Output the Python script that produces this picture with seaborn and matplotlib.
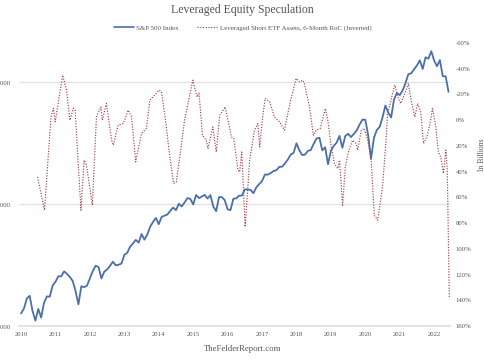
import matplotlib
matplotlib.use("Agg")
import matplotlib.pyplot as plt
import matplotlib.ticker as mticker
from matplotlib.lines import Line2D
import numpy as np
import pandas as pd
import seaborn as sns

# S&P 500 monthly closes, Jan 2010 - Jun 2022
sp500 = [
    1074, 1104, 1169, 1187, 1089, 1031, 1102, 1049, 1141, 1183, 1181, 1258,
    1286, 1327, 1326, 1364, 1345, 1321, 1292, 1219, 1131, 1253, 1247, 1258,
    1312, 1366, 1408, 1398, 1310, 1362, 1379, 1407, 1441, 1412, 1416, 1426,
    1498, 1515, 1569, 1598, 1631, 1606, 1686, 1633, 1682, 1757, 1806, 1848,
    1783, 1859, 1872, 1884, 1924, 1960, 1931, 2003, 1972, 2018, 2068, 2059,
    1995, 2105, 2068, 2086, 2107, 2063, 2104, 1972, 1920, 2079, 2080, 2044,
    1940, 1932, 2060, 2065, 2097, 2099, 2174, 2171, 2168, 2126, 2199, 2239,
    2279, 2364, 2363, 2384, 2412, 2423, 2470, 2472, 2519, 2575, 2648, 2674,
    2824, 2714, 2641, 2648, 2705, 2718, 2816, 2902, 2914, 2712, 2760, 2507,
    2704, 2784, 2834, 2946, 2752, 2942, 2980, 2926, 2977, 3038, 3141, 3231,
    3226, 2954, 2585, 2912, 3044, 3100, 3271, 3500, 3363, 3270, 3622, 3756,
    3714, 3811, 3973, 4181, 4204, 4298, 4395, 4523, 4308, 4605, 4567, 4766,
    4516, 4374, 4530, 4132, 4132, 3785,
]
sp_years = 2010 + np.arange(len(sp500)) / 12

# Leveraged short ETF assets, 6-month rate of change (%)
roc_years = [
    2010.48, 2010.68, 2010.87, 2010.94, 2010.99, 2011.06, 2011.21, 2011.32, 2011.42, 2011.52,
    2011.57, 2011.74, 2011.83, 2011.90, 2012.07, 2012.19, 2012.32, 2012.36, 2012.48, 2012.63,
    2012.68, 2012.82, 2012.97, 2013.11, 2013.21, 2013.33, 2013.50, 2013.64, 2013.74, 2013.93,
    2014.01, 2014.08, 2014.22, 2014.32, 2014.43, 2014.51, 2014.61, 2014.75, 2014.85, 2014.99,
    2015.11, 2015.17, 2015.27, 2015.38, 2015.43, 2015.57, 2015.67, 2015.77, 2015.93, 2016.11,
    2016.18, 2016.30, 2016.35, 2016.41, 2016.51, 2016.64, 2016.78, 2016.88, 2016.93, 2017.02,
    2017.09, 2017.22, 2017.36, 2017.51, 2017.65, 2017.83, 2017.99, 2018.09, 2018.18, 2018.23,
    2018.38, 2018.49, 2018.57, 2018.69, 2018.84, 2018.91, 2019.01, 2019.10, 2019.20, 2019.25,
    2019.34, 2019.42, 2019.52, 2019.63, 2019.73, 2019.78, 2019.88, 2019.97, 2020.07, 2020.17,
    2020.26, 2020.36, 2020.50, 2020.58, 2020.65, 2020.70, 2020.79, 2020.86, 2020.96, 2021.03,
    2021.13, 2021.25, 2021.34, 2021.44, 2021.52, 2021.61, 2021.69, 2021.79, 2021.88, 2021.95,
    2022.05, 2022.12, 2022.19, 2022.27, 2022.34, 2022.38, 2022.44,
]
roc_pct = [
    44.1, 70.0, -2.6, -9.3, 1.3, -10.3, -35.0, -23.3, 0.0, -9.3,
    -7.8, 70.0, 31.1, 35.0, 66.1, -2.6, -10.3, 0.0, -13.0, 15.6,
    19.4, 3.9, 2.6, -7.8, -2.6, 32.4, 10.3, 6.5, -15.6, -20.8,
    -23.3, -22.0, 5.2, 28.5, 49.2, 48.0, 28.5, 0.0, -13.0, -31.1,
    -18.1, -21.0, 11.7, 15.6, 22.0, 5.2, 24.7, -3.9, -10.3, 13.0,
    14.2, 38.9, 40.2, 24.7, 83.0, 31.1, 7.8, 2.6, 20.8, -2.6,
    -16.9, -14.2, -2.6, 1.3, 7.8, -15.6, -32.4, -29.8, -31.1, -28.5,
    -10.3, 11.7, 7.8, 6.5, -9.1, 0.0, 20.8, 33.7, 37.6, 31.1,
    66.1, 36.3, 23.3, 15.6, 18.1, 23.3, 7.8, 6.5, 15.6, 31.1,
    73.9, 77.8, 51.9, 23.3, -5.2, -10.3, -20.8, -27.2, -16.9, -13.0,
    -19.4, -28.5, -14.2, -2.6, -13.0, -6.5, 18.1, 13.0, 2.6, -9.1,
    5.2, 24.7, 28.5, 41.4, 23.3, 37.6, 138.6,
]

year_ticks = list(range(2010, 2023))
left_ticks = [1000, 2000, 4000]
right_ticks = list(range(-60, 161, 20))

BLUE = "#4a70a8"
RED = "#a3434a"
TEXT = "#555555"
GRID = "#e2e2e2"
DOTS = (0, (1, 1.3))

sns.set_theme(style="white")
plt.rcParams["font.family"] = ["Liberation Serif", "DejaVu Serif"]

fig = plt.figure(figsize=(4.85, 3.59), dpi=100)
ax = fig.add_axes([19 / 485, 33 / 359, 431 / 485, 283 / 359])
ax2 = ax.twinx()

sp_df = pd.DataFrame({"year": sp_years, "value": sp500})
roc_df = pd.DataFrame({"year": roc_years, "roc": roc_pct})

sns.lineplot(data=sp_df, x="year", y="value", ax=ax, color=BLUE, linewidth=1.3)
sns.lineplot(data=roc_df, x="year", y="roc", ax=ax2, color=RED, linewidth=0.85,
             linestyle=DOTS)

ax.set_yscale("log", base=2)
ax.set_ylim(1000, 1000 * 2 ** (283 / 122))
ax.set_xlim(2009.94, 2022.46)
ax.set_yticks(left_ticks)
ax.yaxis.set_major_formatter(mticker.FuncFormatter(lambda v, p: f"{int(v):,}"))
ax.yaxis.set_minor_locator(mticker.NullLocator())
ax.set_xticks(year_ticks)
ax.set_xticklabels([str(y) for y in year_ticks])
ax.grid(axis="y", color=GRID, linewidth=0.9)
ax.set_xlabel("")
ax.set_ylabel("")

ax2.set_ylim(160, -60)
ax2.set_yticks(right_ticks)
ax2.set_yticklabels([f"{t}%" for t in right_ticks])
ax2.set_xlabel("")
ax2.set_ylabel("")
ax2.grid(False)

for a in (ax, ax2):
    for side in ("top", "right", "left"):
        a.spines[side].set_visible(False)
    a.spines["bottom"].set_color(GRID)
    a.tick_params(length=0, labelsize=4.8, labelcolor=TEXT)
ax.tick_params(axis="y", pad=6)
ax.tick_params(axis="x", pad=4)
ax2.tick_params(axis="y", pad=4)

fig.text(0.5, 1 - 10 / 359, "Leveraged Equity Speculation", ha="center", va="center",
         fontsize=8.5, color=TEXT)
handles = [
    Line2D([], [], color=BLUE, linewidth=1.2),
    Line2D([], [], color=RED, linewidth=0.85, linestyle=DOTS),
]
fig.legend(handles, ["S&P 500 Index", "Leveraged Short ETF Assets, 6-Month RoC (Inverted)"],
           loc="center", bbox_to_anchor=(0.5, 1 - 28 / 359), ncol=2, frameon=False,
           fontsize=5, handlelength=2.9, handletextpad=0.3, columnspacing=2.7,
           labelcolor=TEXT)
fig.text(482 / 485, 1 - 155 / 359, "In Billions", rotation=90, ha="center", va="center",
         fontsize=5.5, color=TEXT)
fig.text(0.5, 1 - 349 / 359, "TheFelderReport.com", ha="center", va="center",
         fontsize=6.3, color=TEXT)

fig.savefig("out.png", dpi=100)
